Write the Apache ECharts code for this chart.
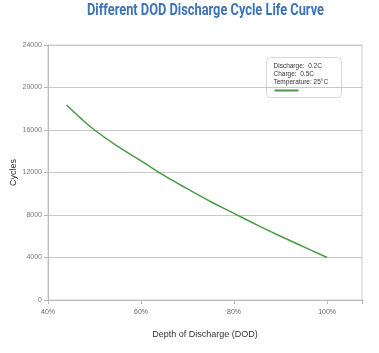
<!DOCTYPE html>
<html>
<head>
<meta charset="utf-8">
<script src="https://cdn.jsdelivr.net/npm/echarts@6/dist/echarts.min.js"></script>
<style>
  html, body { margin: 0; padding: 0; background: #fff; }
  #chart { width: 379px; height: 353px; }
</style>
</head>
<body>
<div id="chart"></div>
<script>
// depth of discharge (%) and cycle counts
const dod = [44, 47, 50, 55, 60, 65, 70, 75, 80, 85, 90, 95, 100];
const cycles = [18350, 17120, 16000, 14450, 13100, 11700, 10450, 9250, 8150, 7050, 6000, 5000, 4000];
const conditions = ["Discharge:  0.2C", "Charge:  0.5C", "Temperature: 25°C"];
const titleText = "Different DOD Discharge Cycle Life Curve";

// no condensed font installed: squeeze a bold sans title to the reference width
const titleFont = "bold 16px Roboto";
const ctx = document.createElement("canvas").getContext("2d");
ctx.font = titleFont;
const titleScale = 237 / ctx.measureText(titleText).width;

const chart = echarts.init(document.getElementById("chart"), null, { renderer: "canvas" });

chart.setOption({
  animation: false,
  grid: {
    left: 48, right: 17, top: 45, bottom: 53,
    outerBoundsMode: "none",
    show: true, borderColor: "#ccc", borderWidth: 1
  },
  xAxis: {
    type: "value",
    min: 40,
    max: 107.5,
    interval: 20,
    name: "Depth of Discharge (DOD)",
    nameLocation: "middle",
    nameGap: 30,
    nameTextStyle: { fontFamily: "Liberation Sans", fontSize: 9, color: "#333" },
    axisLine: { lineStyle: { color: "#bbb" } },
    axisTick: { show: true, length: 4, lineStyle: { color: "#bbb" } },
    axisLabel: {
      fontFamily: "Liberation Sans", fontSize: 7, color: "#666", margin: 9,
      formatter: v => (v <= 100 ? v + "%" : "")
    },
    splitLine: { show: false }
  },
  yAxis: {
    type: "value",
    min: 0,
    max: 24000,
    interval: 4000,
    name: "Cycles",
    nameLocation: "middle",
    nameGap: 30,
    nameMoveOverlap: false,
    nameTextStyle: { fontFamily: "Liberation Sans", fontSize: 9, color: "#333" },
    axisLine: { show: true, lineStyle: { color: "#bbb" } },
    axisTick: { show: true, length: 4, lineStyle: { color: "#bbb" } },
    axisLabel: { fontFamily: "Liberation Sans", fontSize: 7, color: "#777", margin: 6, formatter: v => String(v) },
    splitLine: { lineStyle: { color: "#c8c8c8" } }
  },
  graphic: [
    {
      type: "text",
      x: 87,
      y: 3,
      scaleX: titleScale,
      style: { text: titleText, font: titleFont, fill: "#3b73b9" }
    },
    {
      type: "group",
      right: 37,
      top: 57,
      children: [
        {
          type: "rect",
          shape: { x: 0, y: 0, width: 75, height: 40, r: 4 },
          style: { fill: "#fff", stroke: "#d6d6d6", lineWidth: 1 }
        },
        {
          type: "text",
          x: 7, y: 5,
          style: {
            text: conditions.join("\n"),
            fontFamily: "Liberation Sans", fontSize: 6.5, lineHeight: 8, fill: "#333"
          }
        },
        {
          type: "line",
          shape: { x1: 8, y1: 33, x2: 32, y2: 33 },
          style: { stroke: "#4a9a46", lineWidth: 2 }
        }
      ]
    }
  ],
  series: [{
    type: "line",
    data: dod.map((d, i) => [d, cycles[i]]),
    smooth: 0.4,
    showSymbol: false,
    lineStyle: { color: "#4a9a46", width: 1.5 }
  }]
});
</script>
</body>
</html>
